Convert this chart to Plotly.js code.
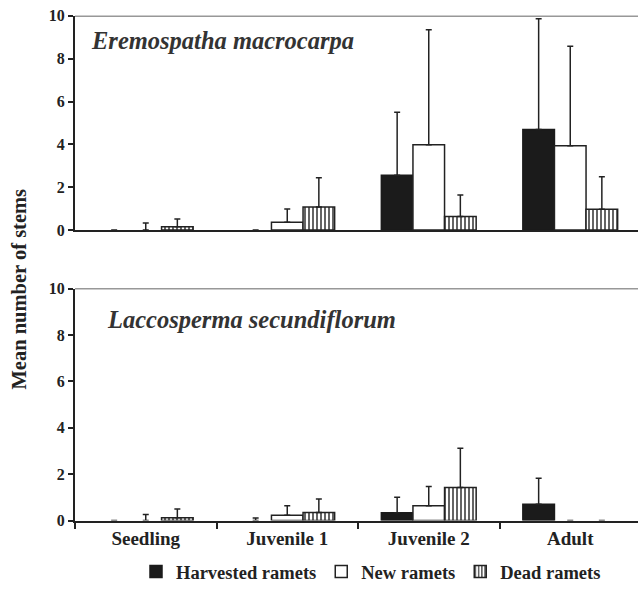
<!DOCTYPE html>
<html><head><meta charset="utf-8">
<script src="https://cdn.plot.ly/plotly-3.0.1.min.js"></script>
<style>html,body{margin:0;padding:0;background:#fff}#chart{width:638px;height:591px}</style>
</head><body><div id="chart"></div>
<script>
const categories = ["Seedling", "Juvenile 1", "Juvenile 2", "Adult"];
const seriesNames = ["Harvested ramets", "New ramets", "Dead ramets"];
// Eremospatha macrocarpa (top)
const emHarvested = [0, 0, 2.56, 4.69];
const emHarvestedErr = [null, null, 2.94, 5.17];
const emNew = [0, 0.36, 3.98, 3.93];
const emNewErr = [0.33, 0.62, 5.37, 4.65];
const emDead = [0.15, 1.08, 0.63, 0.97];
const emDeadErr = [0.36, 1.36, 1.0, 1.52];
// Laccosperma secundiflorum (bottom)
const lsHarvested = [0, 0, 0.34, 0.7];
const lsHarvestedErr = [null, 0.11, 0.66, 1.12];
const lsNew = [0, 0.23, 0.64, 0];
const lsNewErr = [0.26, 0.41, 0.83, null];
const lsDead = [0.12, 0.35, 1.42, 0];
const lsDeadErr = [0.38, 0.58, 1.7, null];
const panelTitles = ["Eremospatha macrocarpa", "Laccosperma secundiflorum"];
const yTitle = "Mean number of stems";

const FONT = 'Liberation Serif';
const INK = '#222';
const zerosMinus = [0, 0, 0, 0];

function errs(arr) {
  return {type: 'data', symmetric: false, array: arr, arrayminus: zerosMinus,
          color: INK, thickness: 1.5, width: 3};
}
function styles(i, vals) {
  const lw = vals.map(v => (v === 0 ? 0 : 1.5));
  if (i === 0) return {color: '#1b1b1b', line: {color: '#1b1b1b', width: lw}};
  if (i === 1) return {color: '#ffffff', line: {color: INK, width: lw}};
  return {color: '#ffffff', line: {color: INK, width: lw},
          pattern: {shape: '|', fgcolor: INK, bgcolor: '#ffffff', size: 4, solidity: 0.35}};
}
const topVals = [[emHarvested, emHarvestedErr], [emNew, emNewErr], [emDead, emDeadErr]];
const botVals = [[lsHarvested, lsHarvestedErr], [lsNew, lsNewErr], [lsDead, lsDeadErr]];
const traces = [];
topVals.forEach((v, i) => traces.push({
  type: 'bar', x: categories, y: v[0], error_y: errs(v[1]), name: seriesNames[i],
  marker: styles(i, v[0]), xaxis: 'x', yaxis: 'y', showlegend: false, offsetgroup: 'g' + i,
  hoverinfo: 'skip'
}));
botVals.forEach((v, i) => traces.push({
  type: 'bar', x: categories, y: v[0], error_y: errs(v[1]), name: seriesNames[i],
  marker: styles(i, v[0]), xaxis: 'x2', yaxis: 'y2', showlegend: false, offsetgroup: 'g' + i,
  hoverinfo: 'skip'
}));
// legend-only entries (solid outlines), sharing offset groups
[0, 1, 2].forEach(i => {
  const m = styles(i, [1]);
  m.line.width = 1.5;
  traces.push({type: 'bar', x: [categories[0]], y: [null], name: seriesNames[i], marker: m,
               xaxis: 'x', yaxis: 'y', showlegend: true, offsetgroup: 'g' + i, hoverinfo: 'skip'});
});

const H = 591, L = 75, W = 638;
const plotW = W - L;
const py = p => 1 - p / H;
const px = p => (p - L) / plotW;

const yCommon = {
  range: [0, 10], tickvals: [0, 2, 4, 6, 8, 10], showgrid: false, zeroline: false,
  showline: true, linecolor: INK, linewidth: 2, ticks: 'outside', ticklen: 5,
  tickwidth: 2, tickcolor: INK, tickfont: {family: FONT, size: 16, color: INK, weight: 'bold'},
  fixedrange: true
};
const xRange = [-0.5, -0.5 + plotW / 141.5];

const layout = {
  width: W, height: H,
  margin: {l: L, r: 0, t: 0, b: 0},
  paper_bgcolor: '#fff', plot_bgcolor: '#fff',
  barmode: 'group', bargap: 0.33, bargroupgap: 0,
  font: {family: FONT, color: INK},
  showlegend: true,
  legend: {orientation: 'h', x: px(371), xanchor: 'center', y: py(577), yanchor: 'middle',
           font: {family: FONT, size: 18.5, color: INK, weight: 'bold'},
           itemwidth: 30, tracegroupgap: 0, traceorder: 'normal'},
  xaxis: {domain: [0, 1], anchor: 'y', range: xRange, showline: true, linecolor: INK,
          linewidth: 2, showticklabels: false, ticks: '', showgrid: false, zeroline: false, fixedrange: true},
  yaxis: Object.assign({}, yCommon, {domain: [py(232), py(16)], anchor: 'x'}),
  xaxis2: {domain: [0, 1], anchor: 'y2', range: xRange, showline: true, linecolor: INK,
           linewidth: 2, ticks: 'outside', tickson: 'boundaries', ticklen: 6, tickwidth: 2,
           tickcolor: INK, showgrid: false, zeroline: false, fixedrange: true,
           tickfont: {family: FONT, size: 19, color: INK, weight: 'bold'}},
  yaxis2: Object.assign({}, yCommon, {domain: [py(525), py(291)], anchor: 'x2'}),
  shapes: [
    {type: 'line', xref: 'paper', yref: 'y', x0: 0, x1: 1, y0: 10, y1: 10, line: {color: '#333', width: 1.5}},
    {type: 'line', xref: 'paper', yref: 'y2', x0: 0, x1: 1, y0: 10, y1: 10, line: {color: '#333', width: 1.5}}
  ],
  annotations: [
    {text: '<b><i>' + panelTitles[0] + '</i></b>', xref: 'paper', yref: 'paper', x: px(89), y: py(41),
     xanchor: 'left', yanchor: 'middle', showarrow: false, font: {family: FONT, size: 24.5, color: '#333'}},
    {text: '<b><i>' + panelTitles[1] + '</i></b>', xref: 'paper', yref: 'paper', x: px(105), y: py(322),
     xanchor: 'left', yanchor: 'middle', showarrow: false, font: {family: FONT, size: 24.5, color: '#333'}},
    {text: '<b>' + yTitle + '</b>', xref: 'paper', yref: 'paper', x: px(19), y: py(292),
     xanchor: 'center', yanchor: 'middle', textangle: -90, showarrow: false,
     font: {family: FONT, size: 20.5, color: INK}}
  ]
};
Plotly.newPlot('chart', traces, layout, {staticPlot: true, displayModeBar: false});
</script></body></html>
